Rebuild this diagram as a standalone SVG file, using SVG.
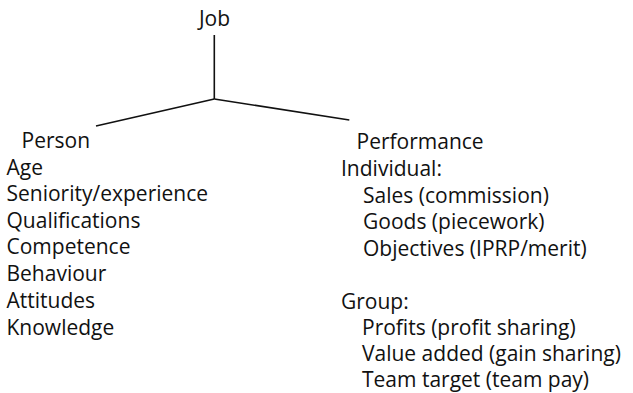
<svg xmlns="http://www.w3.org/2000/svg" width="633" height="393" viewBox="0 0 633 393">
<style>
text{font-family:"Open Sans","Noto Sans","DejaVu Sans",sans-serif;font-size:21px;fill:#111}
.c{stroke:#111;stroke-width:1.6;fill:none}
</style>
<rect width="633" height="393" fill="#fff"/>
<g id="connectors">
<line class="c" x1="214.3" y1="35" x2="214.3" y2="99"/>
<line class="c" x1="214.3" y1="99" x2="96" y2="126"/>
<line class="c" x1="214.3" y1="99" x2="349.3" y2="120"/>
</g>
<g id="job"><text x="214.5" y="26" text-anchor="middle">Job</text></g>
<g id="person">
<text x="21.5" y="148">Person</text>
<text x="6.5" y="174.5">Age</text>
<text x="6.5" y="201.2">Seniority/experience</text>
<text x="6.5" y="227.8">Qualifications</text>
<text x="6.5" y="254.4">Competence</text>
<text x="6.5" y="281">Behaviour</text>
<text x="6.5" y="307.8">Attitudes</text>
<text x="6.5" y="334.8">Knowledge</text>
</g>
<g id="performance">
<text x="356.5" y="149">Performance</text>
<text x="341" y="176">Individual:</text>
<text x="363" y="202.5">Sales (commission)</text>
<text x="363" y="229">Goods (piecework)</text>
<text x="363" y="256">Objectives (IPRP/merit)</text>
<text x="341" y="309">Group:</text>
<text x="362" y="335">Profits (profit sharing)</text>
<text x="362" y="361">Value added (gain sharing)</text>
<text x="362" y="387">Team target (team pay)</text>
</g>
</svg>
